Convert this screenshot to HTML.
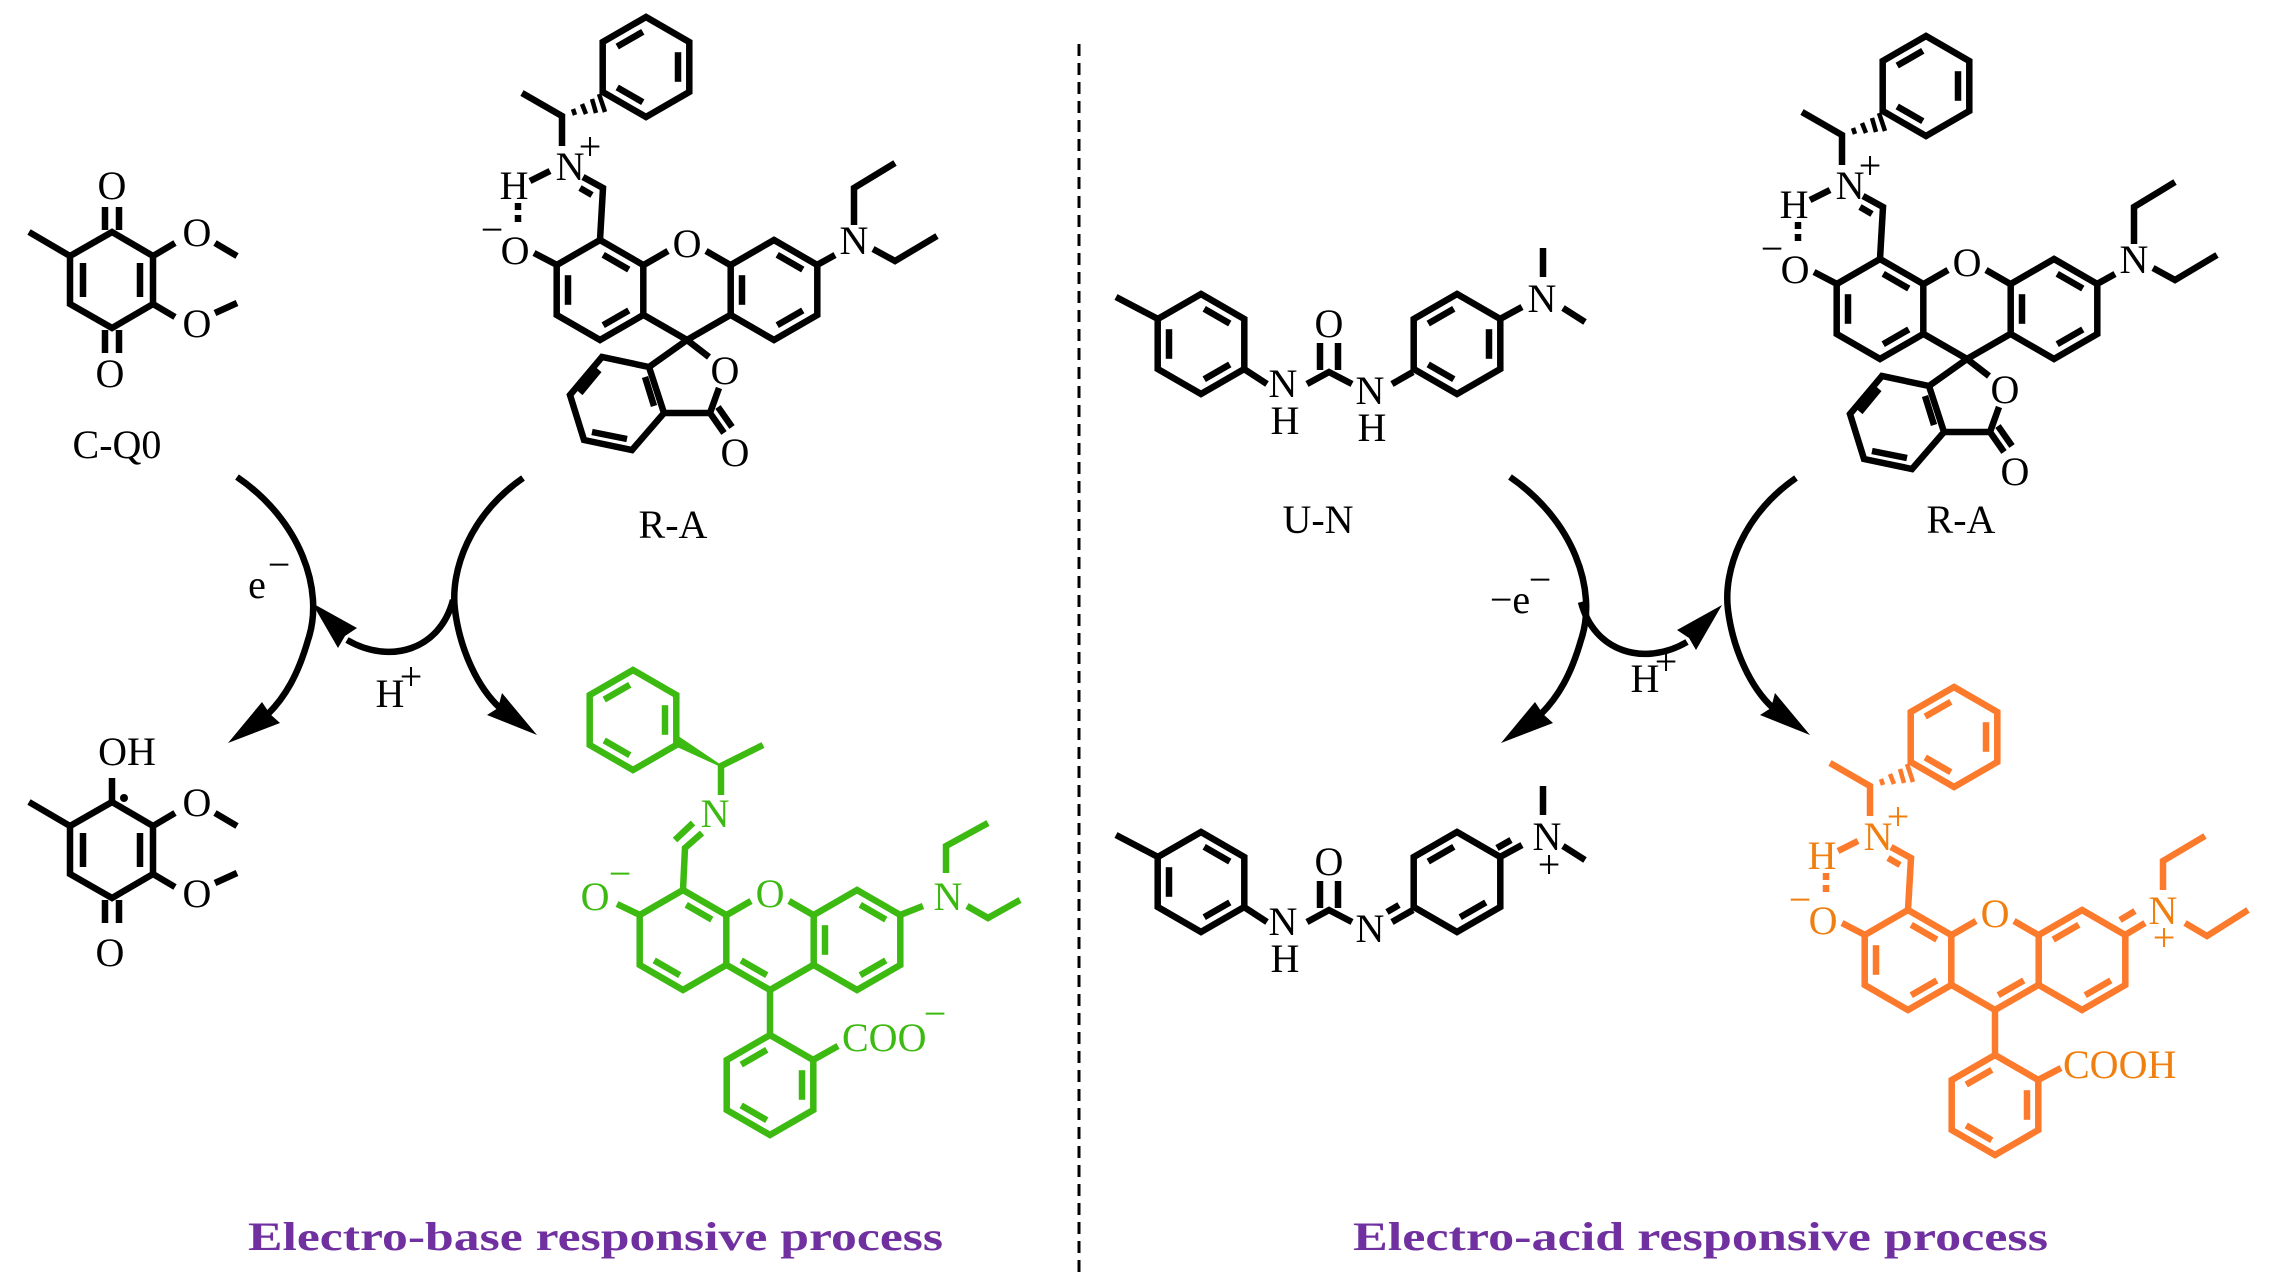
<!DOCTYPE html>
<html><head><meta charset="utf-8"><style>
html,body{margin:0;padding:0;background:#fff}
svg{display:block}
text{font-family:'Liberation Serif','Times New Roman',serif;font-size:40px;stroke:none}
</style></head><body>
<svg width="2269" height="1275" viewBox="0 0 2269 1275" xmlns="http://www.w3.org/2000/svg" font-family="'Liberation Serif','Times New Roman',serif">
<defs>
<polygon id="hx" points="0,-50 43.3,-25 43.3,25 0,50 -43.3,25 -43.3,-25" fill="none"/>
<path id="e01" d="M3.2,-35.2L28.8,-20.4"/>
<path id="e12" d="M32,-14.8L32,14.8"/>
<path id="e23" d="M28.8,20.4L3.2,35.2"/>
<path id="e34" d="M-3.2,35.2L-28.8,20.4"/>
<path id="e45" d="M-32,14.8L-32,-14.8"/>
<path id="e50" d="M-28.8,-20.4L-3.2,-35.2"/>
<g id="coreg" fill="none">
<use href="#hx" x="-87" y="47"/><use href="#hx" x="87" y="47"/>
<path d="M-43.3,72L0,97L43.3,72M-43.3,22L-19,8M43.3,22L19,8"/>
<use href="#e01" x="-87" y="47"/>
</g>
<g id="ratop" fill="none">
<path d="M-87,-3L-84,-55L-104,-66M-107,-55L-95,-48M-157,-62L-137,-72M-125,-97L-125,-127L-165,-150M-153,10L-130,22"/>
<path d="M-114,-134L-112,-128M-105,-139L-101,-129M-95,-144L-91,-130M-88,-149L-82,-131" stroke-width="4.5"/>
<path d="M-169,-40L-169,-16" stroke-dasharray="7,5"/>
<use href="#hx" x="-41" y="-176"/><use href="#e50" x="-41" y="-176"/><use href="#e12" x="-41" y="-176"/><use href="#e34" x="-41" y="-176"/>
</g>
<g id="phth" fill="none">
<path d="M0,97L22,114M32,145L23,170L-23,170M0,97L-38,124M23,170L37,190M31,164L45,184"/>
<polygon points="-38,124 -23,170 -55,207 -103,197 -117,152 -85,114"/>
<path d="M-88,127L-107,150M-60,196L-95,189M-42,134L-33,163"/>
</g>
<g id="ra" fill="none">
<use href="#coreg"/><use href="#ratop"/><use href="#phth"/>
<use href="#e45" x="-87" y="47"/><use href="#e23" x="-87" y="47"/>
<use href="#e45" x="87" y="47"/><use href="#e01" x="87" y="47"/><use href="#e23" x="87" y="47"/>
<path d="M130,22L148,12M167,-18L167,-55L208,-80M186,6L208,18L250,-7"/>
</g>
<g id="quin" fill="none">
<polygon points="112,232 153,256 153,304 112,328 70,304 70,256"/>
<path d="M83,263L83,297M140,263L140,297M70,256L29,232M153,256L175,243M215,243L237,256M153,304L175,317M215,313L237,303M105,330L105,353M119,330L119,353"/>
</g>
<g id="un" fill="none">
<use href="#hx" x="1201" y="344"/><use href="#e01" x="1201" y="344"/><use href="#e45" x="1201" y="344"/><use href="#e23" x="1201" y="344"/>
<use href="#hx" x="1457" y="344"/>
<path d="M1158,319L1116,297M1244,369L1267,384M1307,384L1329,372L1352,384M1320,343L1320,370M1338,343L1338,370M1500,319L1522,307M1543,248L1543,277M1563,308L1585,322M1392,384L1413,372"/>
</g>
</defs>

<line x1="1079" y1="44" x2="1079" y2="1275" stroke="#000" stroke-width="3" stroke-dasharray="12,7"/>

<g stroke="#000" stroke-width="6.5" fill="none" stroke-linejoin="miter">
<use href="#quin"/>
<g transform="translate(0,570)"><polygon points="112,232 153,256 153,304 112,328 70,304 70,256"/>
<path d="M83,263L83,297M140,263L140,297M70,256L29,232M153,256L175,243M215,243L237,256M153,304L175,317M215,313L237,303M105,330L105,353M119,330L119,353M112,208L112,232"/></g>
<path d="M105,207L105,230M119,207L119,230"/>
<g transform="translate(687,243)"><use href="#ra"/></g>
<g transform="translate(1967,262)"><use href="#ra"/></g>
<use href="#un"/>
<use href="#e50" x="1457" y="344"/><use href="#e12" x="1457" y="344"/><use href="#e34" x="1457" y="344"/>
<g transform="translate(0,538)"><use href="#un"/>
<use href="#e50" x="1457" y="344"/><use href="#e23" x="1457" y="344"/>
<path d="M1387,374L1399,367M1497,310L1511,302"/></g>
<path d="M237,477C300,520 325,590 308,640C298,675 285,697 268,714"/>
<path d="M523,478C470,515 450,570 455,610C460,650 478,688 500,708"/>
<path d="M453,600C440,650 390,665 347,640"/>
<g transform="translate(1273,0)">
<path d="M237,477C300,520 325,590 308,640C298,675 285,697 268,714"/>
<path d="M523,478C470,515 450,570 455,610C460,650 478,688 500,708"/>
</g>
<g transform="translate(2034,2) scale(-1,1)"><path d="M453,600C440,650 390,665 347,640"/></g>
</g>
<g fill="#000">
<polygon points="228,743 262,702 270,714 280,723"/>
<polygon points="537,735 487,715 498,708 502,693"/>
<polygon points="312,603 338,648 345,636 357,628"/>
<g transform="translate(1273,0)"><polygon points="228,743 262,702 270,714 280,723"/><polygon points="537,735 487,715 498,708 502,693"/></g>
<g transform="translate(2034,2) scale(-1,1)"><polygon points="312,603 338,648 345,636 357,628"/></g>
<circle cx="124" cy="798" r="4"/>
</g>

<g transform="translate(770,893)" stroke="#3dba12" stroke-width="6.5" fill="none">
<use href="#coreg"/>
<use href="#e34" x="-87" y="47"/><use href="#e34" x="0" y="47"/>
<use href="#e45" x="87" y="47"/><use href="#e01" x="87" y="47"/><use href="#e23" x="87" y="47"/>
<path d="M-87,-3L-85,-45L-68,-60M-95,-53L-77,-70M-49,-98L-49,-127L-7,-148M-153,11L-130,22M130,22L153,13M176,-20L176,-47L218,-70M197,13L218,25L250,7M0,97L0,142M43,167L68,153"/>
<polygon points="-49,-127 -95,-148 -92,-156" fill="#3dba12" stroke-width="2"/>
<use href="#hx" x="-137" y="-173"/><use href="#e50" x="-137" y="-173"/><use href="#e12" x="-137" y="-173"/><use href="#e34" x="-137" y="-173"/>
<use href="#hx" x="0" y="192"/><use href="#e50" x="0" y="192"/><use href="#e12" x="0" y="192"/><use href="#e34" x="0" y="192"/>
</g>
<g transform="translate(770,893)" fill="#3dba12">
<text x="0" y="14" text-anchor="middle">O</text>
<text x="-55" y="-66" text-anchor="middle">N</text>
<text x="-175" y="17" text-anchor="middle">O</text><text x="-150" y="-6" font-size="30" text-anchor="middle">−</text>
<text x="178" y="17" text-anchor="middle">N</text>
<text x="72" y="158">COO</text><text x="165" y="134" font-size="30" text-anchor="middle">−</text>
</g>

<g transform="translate(1995,913)" stroke="#fb7a2c" stroke-width="6.5" fill="none">
<use href="#coreg"/><use href="#ratop"/>
<use href="#e45" x="-87" y="47"/><use href="#e23" x="-87" y="47"/><use href="#e23" x="0" y="47"/>
<use href="#e50" x="87" y="47"/><use href="#e23" x="87" y="47"/>
<path d="M130,22L150,10M125,7L140,-2M168,-23L168,-52L210,-77M190,10L212,23L253,-3M0,97L0,142M43,167L66,155"/>
<use href="#hx" x="0" y="192"/><use href="#e50" x="0" y="192"/><use href="#e12" x="0" y="192"/><use href="#e34" x="0" y="192"/>
</g>
<g transform="translate(1995,913)" fill="#f07f10">
<text x="0" y="14" text-anchor="middle">O</text>
<text x="-117" y="-63" text-anchor="middle">N</text><text x="-97" y="-83" font-size="30" text-anchor="middle">+</text>
<text x="-173" y="-44" text-anchor="middle">H</text>
<text x="-172" y="21" text-anchor="middle">O</text><text x="-195" y="0" font-size="30" text-anchor="middle">−</text>
<text x="168" y="11" text-anchor="middle">N</text><text x="169" y="38" font-size="30" text-anchor="middle">+</text>
<text x="68" y="165">COOH</text>
</g>

<g fill="#000">
<text x="112" y="199" text-anchor="middle">O</text>
<text x="110" y="387" text-anchor="middle">O</text>
<text x="197" y="246" text-anchor="middle">O</text>
<text x="197" y="337" text-anchor="middle">O</text>
<text x="117" y="458" text-anchor="middle">C-Q0</text>
<text x="127" y="765" text-anchor="middle">OH</text>
<text x="110" y="966" text-anchor="middle">O</text>
<text x="197" y="816" text-anchor="middle">O</text>
<text x="197" y="907" text-anchor="middle">O</text>
<g transform="translate(687,243)">
<text x="0" y="14" text-anchor="middle">O</text>
<text x="-117" y="-63" text-anchor="middle">N</text><text x="-97" y="-83" font-size="30" text-anchor="middle">+</text>
<text x="-173" y="-44" text-anchor="middle">H</text>
<text x="-172" y="21" text-anchor="middle">O</text><text x="-195" y="0" font-size="30" text-anchor="middle">−</text>
<text x="167" y="11" text-anchor="middle">N</text>
<text x="38" y="141" text-anchor="middle">O</text><text x="48" y="223" text-anchor="middle">O</text>
</g>
<g transform="translate(1967,262)">
<text x="0" y="14" text-anchor="middle">O</text>
<text x="-117" y="-63" text-anchor="middle">N</text><text x="-97" y="-83" font-size="30" text-anchor="middle">+</text>
<text x="-173" y="-44" text-anchor="middle">H</text>
<text x="-172" y="21" text-anchor="middle">O</text><text x="-195" y="0" font-size="30" text-anchor="middle">−</text>
<text x="167" y="11" text-anchor="middle">N</text>
<text x="38" y="141" text-anchor="middle">O</text><text x="48" y="223" text-anchor="middle">O</text>
</g>
<text x="673" y="538" text-anchor="middle">R-A</text>
<text x="1961" y="533" text-anchor="middle">R-A</text>
<text x="1318" y="533" text-anchor="middle">U-N</text>
<text x="1283" y="397" text-anchor="middle">N</text><text x="1285" y="434" text-anchor="middle">H</text>
<text x="1329" y="337" text-anchor="middle">O</text>
<text x="1370" y="404" text-anchor="middle">N</text><text x="1372" y="441" text-anchor="middle">H</text>
<text x="1542" y="312" text-anchor="middle">N</text>
<text x="1283" y="935" text-anchor="middle">N</text><text x="1285" y="972" text-anchor="middle">H</text>
<text x="1329" y="875" text-anchor="middle">O</text>
<text x="1370" y="942" text-anchor="middle">N</text>
<text x="1547" y="850" text-anchor="middle">N</text><text x="1549" y="878" font-size="28" text-anchor="middle">+</text>
<text x="257" y="598" text-anchor="middle">e</text><text x="279" y="578" font-size="28" text-anchor="middle">−</text>
<text x="390" y="707" text-anchor="middle">H</text><text x="411" y="690" font-size="28" text-anchor="middle">+</text>
<text x="1510" y="613" text-anchor="middle">−e</text><text x="1540" y="593" font-size="28" text-anchor="middle">−</text>
<text x="1645" y="692" text-anchor="middle">H</text><text x="1666" y="675" font-size="28" text-anchor="middle">+</text>
</g>

<text x="248" y="1250" font-size="46" font-weight="bold" fill="#7030a0" textLength="695" lengthAdjust="spacingAndGlyphs">Electro-base responsive process</text>
<text x="1353" y="1250" font-size="46" font-weight="bold" fill="#7030a0" textLength="695" lengthAdjust="spacingAndGlyphs">Electro-acid responsive process</text>
</svg>
</body></html>
